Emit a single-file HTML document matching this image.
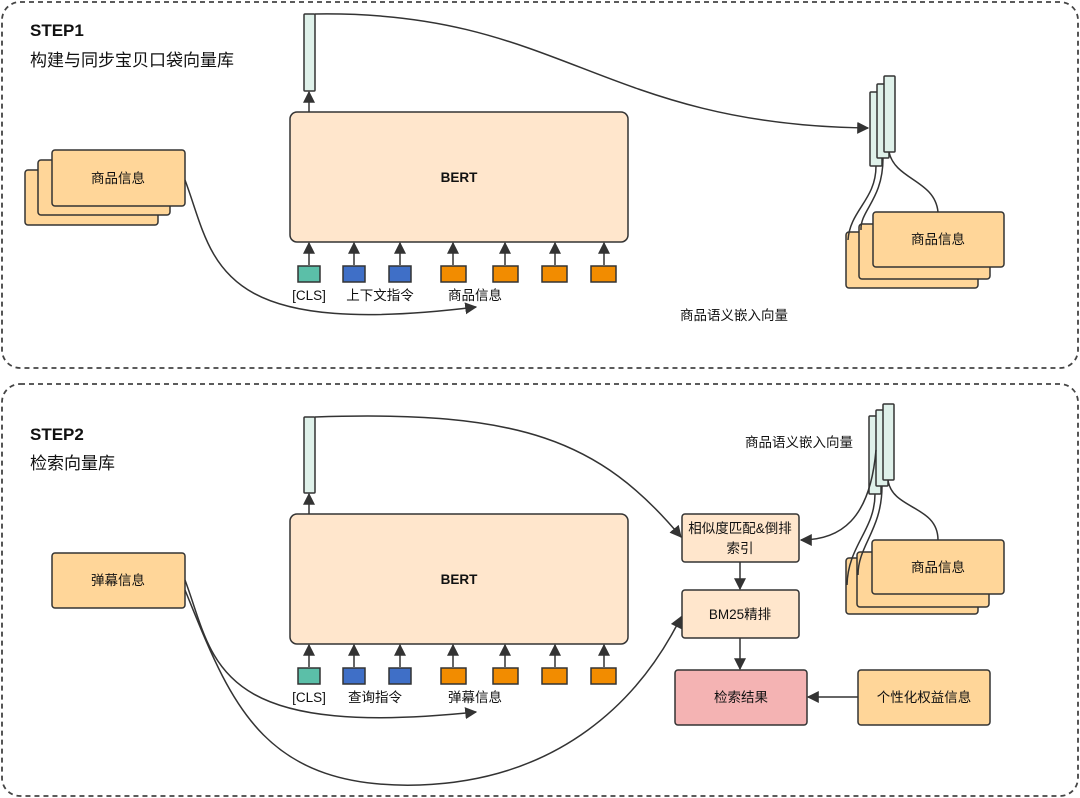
<!DOCTYPE html>
<html><head><meta charset="utf-8"><style>
body{margin:0;background:#fff;}
svg{display:block;font-family:"Liberation Sans","Noto Sans CJK SC",sans-serif;}
</style></head><body>
<svg width="1080" height="798" viewBox="0 0 1080 798">
<defs>
<marker id="a" viewBox="0 0 10 10" refX="9" refY="5" markerWidth="8" markerHeight="8" orient="auto"><path d="M0,0L10,5L0,10z" fill="#333"/></marker>
</defs>
<g fill="none" stroke="#444" stroke-width="1.8" stroke-dasharray="5,4">
<rect x="2" y="2" width="1076" height="366" rx="18"/>
<rect x="2" y="384" width="1076" height="412" rx="18"/>
</g>
<g font-weight="bold" font-size="17" fill="#111">
<text x="30" y="36">STEP1</text><text x="30" y="440">STEP2</text>
</g>
<g font-size="17" fill="#111">
<text x="30" y="66">构建与同步宝贝口袋向量库</text><text x="30" y="469">检索向量库</text>
</g>

<!-- STEP1 -->
<g stroke="#333" stroke-width="1.5">
<rect x="304" y="14" width="11" height="77" fill="#dff1ea" rx="1"/>
<rect x="290" y="112" width="338" height="130" rx="7" fill="#ffe6cc"/>
<rect x="25" y="170" width="133" height="55" rx="3" fill="#ffd699"/>
<rect x="38" y="160" width="132" height="55" rx="3" fill="#ffd699"/>
<rect x="52" y="150" width="133" height="56" rx="3" fill="#ffd699"/>
<rect x="846" y="232" width="132" height="56" rx="3" fill="#ffd699"/>
<rect x="859" y="224" width="131" height="55" rx="3" fill="#ffd699"/>
<rect x="870" y="92" width="12" height="74" fill="#dff1ea" rx="1"/>
<rect x="877" y="84" width="12" height="74" fill="#dff1ea" rx="1"/>
<rect x="884" y="76" width="11" height="76" fill="#dff1ea" rx="1"/>
<path d="M876,166 C876,200 850,210 848,240" fill="none"/>
<path d="M883,158 C883,200 860,210 861,230" fill="none"/>
<path d="M889,152 C895,180 935,180 938,212" fill="none"/>
<rect x="873" y="212" width="131" height="55" rx="3" fill="#ffd699"/>
<rect x="298" y="266" width="22" height="16" fill="#5bbfa8"/>
<rect x="343" y="266" width="22" height="16" fill="#3f6fc7"/>
<rect x="389" y="266" width="22" height="16" fill="#3f6fc7"/>
<rect x="441" y="266" width="25" height="16" fill="#f28c00"/>
<rect x="493" y="266" width="25" height="16" fill="#f28c00"/>
<rect x="542" y="266" width="25" height="16" fill="#f28c00"/>
<rect x="591" y="266" width="25" height="16" fill="#f28c00"/>
</g>
<g stroke="#333" stroke-width="1.5" marker-end="url(#a)" fill="none">
<path d="M309,112 V92"/>
<path d="M309,265 V243"/><path d="M354,265 V243"/><path d="M400,265 V243"/><path d="M453,265 V243"/><path d="M505,265 V243"/><path d="M555,265 V243"/><path d="M604,265 V243"/>
<path d="M315,14 C560,10 600,125 868,128"/>
<path d="M185,180 C215,260 210,340 476,307"/>
</g>
<g font-size="13.5" fill="#111" text-anchor="middle">
<text x="459" y="182" font-weight="bold">BERT</text>
<text x="118" y="183">商品信息</text>
<text x="938" y="244">商品信息</text>
<text x="309" y="300">[CLS]</text>
<text x="380" y="300">上下文指令</text>
<text x="475" y="300">商品信息</text>
<text x="734" y="320">商品语义嵌入向量</text>
</g>

<!-- STEP2 -->
<g stroke="#333" stroke-width="1.5">
<rect x="304" y="417" width="11" height="76" fill="#dff1ea" rx="1"/>
<rect x="290" y="514" width="338" height="130" rx="7" fill="#ffe6cc"/>
<rect x="52" y="553" width="133" height="55" rx="3" fill="#ffd699"/>
<rect x="846" y="558" width="132" height="56" rx="3" fill="#ffd699"/>
<rect x="857" y="552" width="132" height="55" rx="3" fill="#ffd699"/>
<rect x="869" y="416" width="12" height="78" fill="#dff1ea" rx="1"/>
<rect x="876" y="410" width="12" height="76" fill="#dff1ea" rx="1"/>
<rect x="883" y="404" width="11" height="76" fill="#dff1ea" rx="1"/>
<path d="M875,494 C875,530 848,545 847,585" fill="none"/>
<path d="M882,486 C882,530 858,545 858,575" fill="none"/>
<path d="M888,480 C892,510 938,505 938,540" fill="none"/>
<rect x="872" y="540" width="132" height="54" rx="3" fill="#ffd699"/>
<rect x="682" y="514" width="117" height="48" rx="3" fill="#ffe6cc"/>
<rect x="682" y="590" width="117" height="48" rx="3" fill="#ffe6cc"/>
<rect x="675" y="670" width="132" height="55" rx="3" fill="#f4b3b3"/>
<rect x="858" y="670" width="132" height="55" rx="3" fill="#ffd699"/>
<rect x="298" y="668" width="22" height="16" fill="#5bbfa8"/>
<rect x="343" y="668" width="22" height="16" fill="#3f6fc7"/>
<rect x="389" y="668" width="22" height="16" fill="#3f6fc7"/>
<rect x="441" y="668" width="25" height="16" fill="#f28c00"/>
<rect x="493" y="668" width="25" height="16" fill="#f28c00"/>
<rect x="542" y="668" width="25" height="16" fill="#f28c00"/>
<rect x="591" y="668" width="25" height="16" fill="#f28c00"/>
</g>
<g stroke="#333" stroke-width="1.5" marker-end="url(#a)" fill="none">
<path d="M309,514 V494"/>
<path d="M309,667 V645"/><path d="M354,667 V645"/><path d="M400,667 V645"/><path d="M453,667 V645"/><path d="M505,667 V645"/><path d="M555,667 V645"/><path d="M604,667 V645"/>
<path d="M315,417 C520,410 600,440 681,537"/>
<path d="M876,450 C870,520 840,540 801,540"/>
<path d="M740,562 V589"/>
<path d="M740,638 V669"/>
<path d="M858,697 H808"/>
<path d="M185,580 C215,660 210,740 476,712"/>
<path d="M185,590 C230,700 260,790 420,785 C560,780 640,700 681,617"/>
</g>
<g font-size="13.5" fill="#111" text-anchor="middle">
<text x="459" y="584" font-weight="bold">BERT</text>
<text x="118" y="585">弹幕信息</text>
<text x="938" y="572">商品信息</text>
<text x="309" y="702">[CLS]</text>
<text x="375" y="702">查询指令</text>
<text x="475" y="702">弹幕信息</text>
<text x="799" y="447">商品语义嵌入向量</text>
<text x="740" y="533">相似度匹配&amp;倒排</text>
<text x="740" y="553">索引</text>
<text x="740" y="619">BM25精排</text>
<text x="741" y="702">检索结果</text>
<text x="924" y="702">个性化权益信息</text>
</g>
</svg>
</body></html>
